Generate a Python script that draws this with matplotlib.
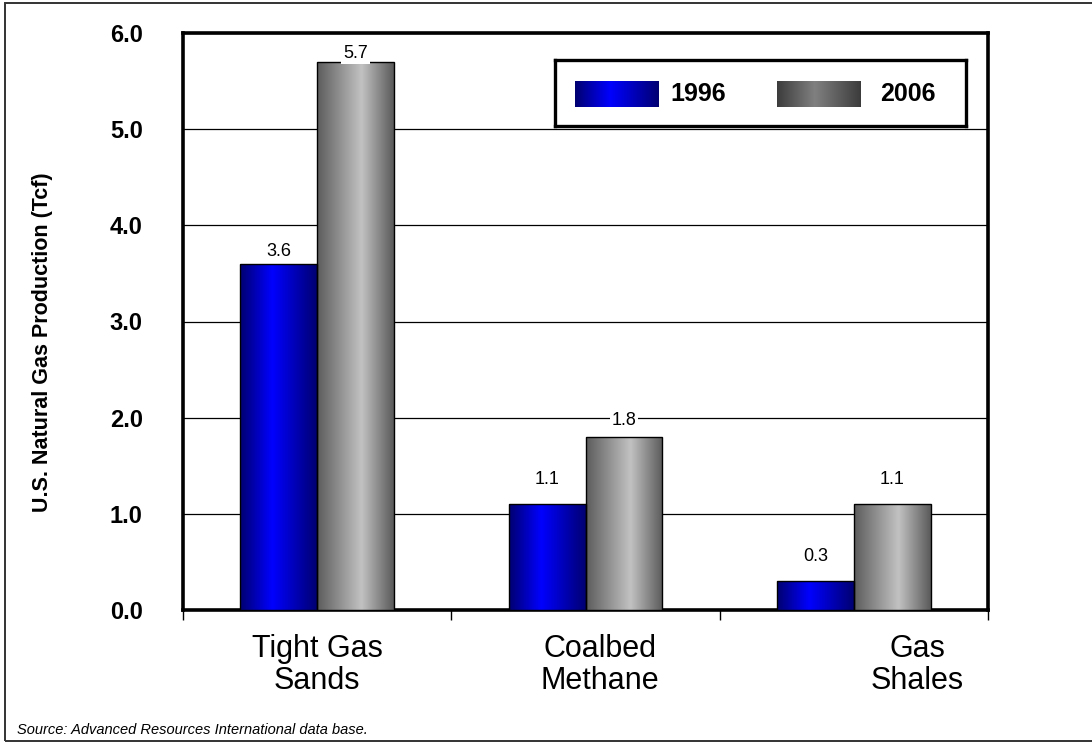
import numpy as np
import matplotlib
matplotlib.use("Agg")
import matplotlib.pyplot as plt
from matplotlib.colors import LinearSegmentedColormap
from matplotlib.patches import Rectangle

# --- data -------------------------------------------------------------
categories = ["Tight Gas\nSands", "Coalbed\nMethane", "Gas\nShales"]
years = ["1996", "2006"]
values_1996 = [3.6, 1.1, 0.3]
values_2006 = [5.7, 1.8, 1.1]
y_ticks = [0.0, 1.0, 2.0, 3.0, 4.0, 5.0, 6.0]
source_note = "Source: Advanced Resources International data base."
y_title = "U.S. Natural Gas Production (Tcf)"

# --- styling ----------------------------------------------------------
NARROW = ["Liberation Sans Narrow", "Liberation Sans", "DejaVu Sans"]
REGULAR = ["Liberation Sans", "DejaVu Sans"]
plt.rcParams["font.family"] = NARROW

blue_cmap = LinearSegmentedColormap.from_list(
    "blue_tube", [(0.0, "#000070"), (0.42, "#0000ff"), (1.0, "#000072")])
grey_cmap = LinearSegmentedColormap.from_list(
    "grey_tube", [(0.0, "#5c5c5c"), (0.58, "#c2c2c2"), (1.0, "#5a5a5a")])
grey_legend_cmap = LinearSegmentedColormap.from_list(
    "grey_swatch", [(0.0, "#3c3c3c"), (0.45, "#808080"), (1.0, "#3c3c3c")])

W, H = 1092, 742
fig = plt.figure(figsize=(W / 100, H / 100), dpi=100)
ax = fig.add_axes([183 / W, 1 - 610 / H, (988 - 183) / W, (610 - 33) / H])

x = np.arange(len(categories))
bar_w = 0.286
ramp = np.linspace(0, 1, 256).reshape(1, -1)


def gradient_bars(xpos, heights, cmap):
    bars = ax.bar(xpos, heights, width=bar_w, facecolor="none",
                  edgecolor="black", linewidth=1.0, zorder=4)
    for patch in bars:
        x0, y0 = patch.get_x(), patch.get_y()
        w, h = patch.get_width(), patch.get_height()
        im = ax.imshow(ramp, cmap=cmap, extent=[x0, x0 + w, y0, y0 + h],
                       aspect="auto", interpolation="bicubic", zorder=3)
        im.set_clip_path(patch)
    return bars


bars_96 = gradient_bars(x - bar_w / 2, values_1996, blue_cmap)
bars_06 = gradient_bars(x + bar_w / 2, values_2006, grey_cmap)

ax.set_xlim(-0.5, len(categories) - 0.5)
ax.set_ylim(0, 6.0)
ax.set_aspect("auto")

# value labels above each bar (offsets in points)
label_offsets_96 = [9, 18, 18]
label_offsets_06 = [6, 12, 18]
for bars, vals, offs in ((bars_96, values_1996, label_offsets_96),
                         (bars_06, values_2006, label_offsets_06)):
    for patch, v, off in zip(bars, vals, offs):
        ax.annotate(f"{v:.1f}", (patch.get_x() + patch.get_width() / 2, v),
                    xytext=(0, off), textcoords="offset points",
                    ha="center", va="center", fontsize=13, zorder=6,
                    bbox=dict(boxstyle="square,pad=0.1", fc="white", ec="none"))

# grid + axes frame
ax.set_yticks(y_ticks)
ax.set_yticklabels([f"{t:.1f}" for t in y_ticks], fontsize=17, fontweight="bold")
ax.yaxis.grid(True, color="black", linewidth=0.9, zorder=1)
ax.set_axisbelow(True)
ax.tick_params(axis="y", length=0, pad=29)
for side in ax.spines.values():
    side.set_linewidth(2.6)
    side.set_color("black")

# category labels, plus small tick marks between categories
label_pos = [0.0, 1.054, 2.236]
ax.set_xticks(label_pos)
ax.set_xticklabels(categories, fontsize=22, linespacing=1.1)
ax.tick_params(axis="x", which="major", length=0, pad=17)
ax.set_xticks(np.arange(-0.5, len(categories)), minor=True)
ax.tick_params(axis="x", which="minor", length=7, width=1, direction="out")

fig.text(43 / W, 1 - 342 / H, y_title, rotation=90, ha="center", va="center",
         fontsize=15.5, fontweight="bold", family=REGULAR)

# legend box with gradient swatches
lg = fig.add_axes([555 / W, 1 - 126 / H, (966 - 555) / W, (126 - 60) / H])
lg.set_xticks([])
lg.set_yticks([])
for side in lg.spines.values():
    side.set_linewidth(2.4)
lg.set_zorder(10)
swatches = [(575, 659, blue_cmap, 670), (777, 861, grey_legend_cmap, 880)]
for (sx0, sx1, cm, tx), yr in zip(swatches, years):
    lg.imshow(ramp, cmap=cm, extent=[sx0, sx1, 107, 81], aspect="auto",
              interpolation="bicubic")
    lg.text(tx, 94, yr, ha="left", va="center", fontsize=18, fontweight="bold")
lg.set_xlim(555, 966)
lg.set_ylim(126, 60)

fig.text(17 / W, 1 - 730 / H, source_note, ha="left", va="center",
         fontsize=10.5, style="italic")

# outer frame
fig.patches.append(Rectangle((5 / W, 1 - 741 / H), 1.1, (741 - 2.5) / H,
                             transform=fig.transFigure, fill=False,
                             edgecolor="#333333", linewidth=1.4))

fig.savefig("out.png", dpi=100)
